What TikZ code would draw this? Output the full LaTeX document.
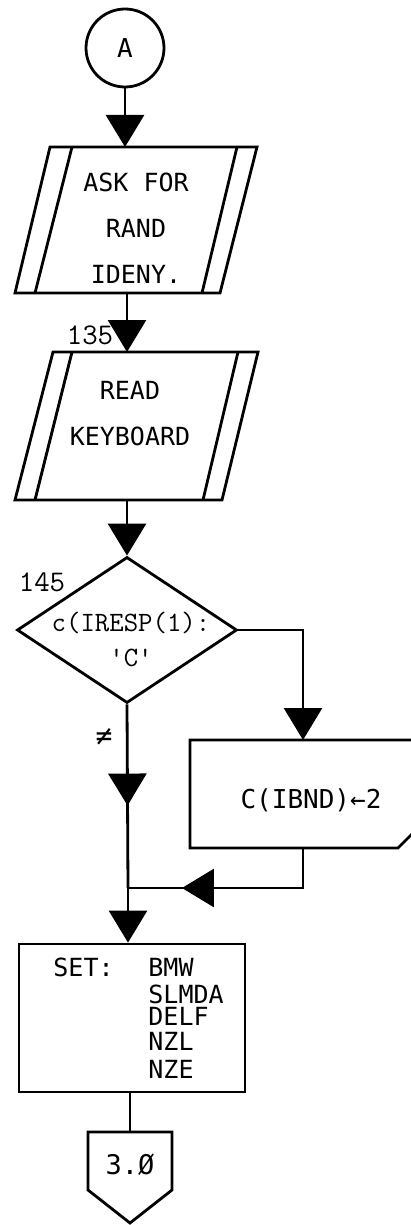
\documentclass[tikz,border=0pt]{standalone}
\usepackage{fontspec}
\newfontfamily\plotfont{DejaVu Sans Mono}
\usetikzlibrary{arrows.meta,calc,positioning,shapes.geometric,decorations.markings}
\tikzset{
  every picture/.style={line width=1.4pt},
  outline/.style={draw=black,line width=1.4pt,line join=miter},
  connector/.style={circle,draw,line width=1.4pt,minimum size=39pt,inner sep=0pt,
    font=\plotfont\fontsize{13}{15}\selectfont},
  flow/.style={draw,line width=1.4pt,-{Triangle[length=16pt,width=19pt]}},
  midflow/.style={draw,line width=1.4pt,postaction={decorate},
    decoration={markings,mark=at position #1 with {\arrow{Triangle[length=16pt,width=19pt]}}}},
  plot text/.style={font=\plotfont\fontsize{12.5}{23}\selectfont,align=center,inner sep=0pt},
  stmt label/.style={font=\ttfamily\fontsize{15}{15}\selectfont,inner sep=0pt},
  decision/.style={diamond,draw,line width=1.4pt,minimum width=110pt,minimum height=73pt,inner sep=0pt},
  setbox/.style={rectangle,draw,line width=1.4pt,minimum width=113pt,minimum height=74pt,inner sep=0pt},
}
\begin{document}
\begin{tikzpicture}[x=0.5pt,y=-0.5pt]
  \path[use as bounding box] (0,0) rectangle (411,1225);
  % I/O blocks are double ruled at the sides; the assignment box runs off the sheet
  \node[connector] (A) at (125,48) {A};
  \draw[outline] (50,147) -- (257,147) -- (220,293) -- (15,293) -- cycle;
  \draw[outline] (72,147) -- (35,293) (237,147) -- (202,293);
  \coordinate (askin) at (125,147);
  \coordinate (askout) at (127,293);
  \node[plot text] (ask) at (136,228) {ASK FOR\\RAND\\IDENY.};
  \draw[outline] (53,352) -- (258,352) -- (222,500) -- (15,500) -- cycle;
  \draw[outline] (72,352) -- (35,500) (238,352) -- (203,500);
  \coordinate (readin) at (127,352);
  \coordinate (readout) at (127,500);
  \node[plot text] (read) at (130,414) {READ\\KEYBOARD};
  \node[stmt label] (l135) at (90,335) {135};
  \node[decision] (test) at (127,630) {};
  \node[font=\ttfamily\fontsize{14}{17.5}\selectfont,align=center,inner sep=0pt]
    (testtext) at (131,639) {c(IRESP(1):\\'C'};
  \node[stmt label] (l145) at (42,582) {145};
  \draw[outline] (190,740) -- (418,740) -- (418,828) -- (398,848) -- (190,848) -- cycle;
  \coordinate (assignin) at (303,740);
  \coordinate (assignout) at (303,848);
  \node[plot text,font=\plotfont\fontsize{13}{15}\selectfont] (assign) at (311,800) {C(IBND)←2};
  \coordinate (merge) at (128,888);
  \node[setbox] (set) at (132,1018) {};
  \node[plot text,anchor=west] (setkw) at (52,967) {SET:};
  \foreach \name/\y in {BMW/967,SLMDA/994,DELF/1016,NZL/1041,NZE/1069}
    \node[plot text,anchor=west] (set\name) at (147,\y) {\name};
  \draw[outline] (88,1132) -- (172,1132) -- (172,1190) -- (130,1223) -- (88,1190) -- cycle;
  \coordinate (offin) at (130,1132);
  \node[plot text,font=\plotfont\fontsize{13.5}{15}\selectfont] (off) at (130,1165) {3.Ø};
  \draw[flow] (A) -- (askin);
  \draw[flow] (askout) -- (readin);
  \draw[flow] (readout) -- (test);
  \draw[flow] (test.east) -| (assignin);
  \draw[midflow=0.551] (test.south) -- (merge);
  \node[font=\plotfont\fontsize{14}{15}\selectfont,inner sep=0pt] (ne) at (104,737) {≠};
  \draw[midflow=0.749] (assignout) |- (merge);
  \draw[flow] (merge) -- (merge |- set.north);
  \draw (set.south -| offin) -- (offin);
\end{tikzpicture}
\end{document}
